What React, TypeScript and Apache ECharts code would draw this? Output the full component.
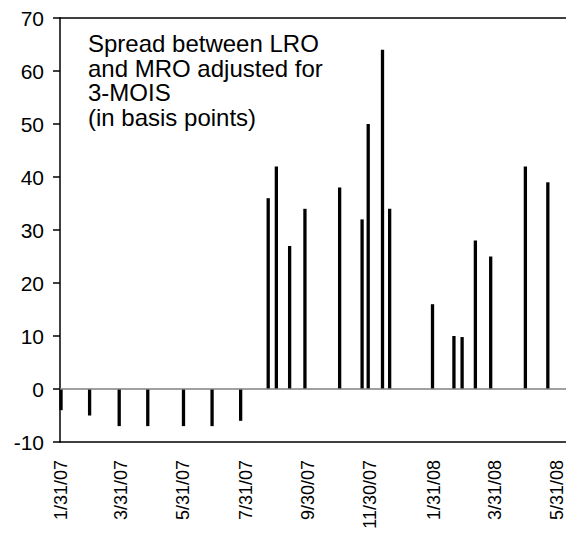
import React, { useEffect, useRef } from "react";
import * as echarts from "echarts";

// LRO allotment dates and spread values (basis points)
const lroDates: string[] = [
  "2007-01-31", "2007-02-28", "2007-03-29", "2007-04-26", "2007-05-31",
  "2007-06-28", "2007-07-26", "2007-08-22", "2007-08-30", "2007-09-12",
  "2007-09-27", "2007-10-31", "2007-11-22", "2007-11-28", "2007-12-12",
  "2007-12-19", "2008-01-30", "2008-02-20", "2008-02-28", "2008-03-12",
  "2008-03-27", "2008-04-30", "2008-05-22",
];
const spreadValues: number[] = [
  -4, -5, -7, -7, -7, -7, -6, 36, 42, 27, 34, 38, 32, 50, 64, 34,
  16, 10, 9.8, 28, 25, 42, 39,
];
const tickDates: string[] = [
  "2007-01-31", "2007-03-31", "2007-05-31", "2007-07-31", "2007-09-30",
  "2007-11-30", "2008-01-31", "2008-03-31", "2008-05-31",
];
const yTicks = { min: -10, max: 70, interval: 10 };
const noteLines: string[] = [
  "Spread between LRO",
  "and MRO adjusted for",
  "3-MOIS",
  "(in basis points)",
];

const ts = (d: string) => {
  const [y, m, day] = d.split("-").map(Number);
  return Date.UTC(y, m - 1, day);
};
const DAY = 86400000;
const FONT = 'Arial, "Liberation Sans", sans-serif';

export default function App() {
  const ref = useRef<HTMLDivElement>(null);
  useEffect(() => {
    if (!ref.current) return;
    const chart = echarts.init(ref.current, undefined, { renderer: "svg" });
    const xMin = ts("2007-01-30");
    const xMax = xMin + 495.8 * DAY;
    const fmt = (v: number) => {
      const d = new Date(v);
      return `${d.getUTCMonth() + 1}/${d.getUTCDate()}/${String(d.getUTCFullYear()).slice(2)}`;
    };
    chart.setOption({
      animation: false,
      backgroundColor: "#ffffff",
      grid: { left: 60, right: 0, top: 18, bottom: 96, containLabel: false, outerBoundsMode: "none" },
      xAxis: [
        {
          type: "value",
          min: xMin,
          max: xMax,
          position: "bottom",
          axisLine: { show: true, onZero: false, lineStyle: { color: "#000", width: 1.5 } },
          axisTick: { show: false },
          splitLine: { show: false },
          axisLabel: {
            customValues: tickDates.map(ts),
            formatter: (v: number) => fmt(v),
            rotate: 90,
            margin: 18,
            fontSize: 18,
            color: "#000",
            fontFamily: FONT,
            hideOverlap: false,
            showMinLabel: true,
            showMaxLabel: true,
          },
        },
        {
          type: "value",
          min: xMin,
          max: xMax,
          position: "top",
          axisLine: { show: true, onZero: false, lineStyle: { color: "#000", width: 1.5 } },
          axisTick: { show: false },
          axisLabel: { show: false },
          splitLine: { show: false },
        },
      ],
      yAxis: {
        type: "value",
        min: yTicks.min,
        max: yTicks.max,
        interval: yTicks.interval,
        axisLine: { show: true, lineStyle: { color: "#000", width: 1.5 } },
        axisTick: { show: true, length: 7, lineStyle: { color: "#000", width: 1.5 } },
        splitLine: { show: false },
        axisLabel: { fontSize: 21, color: "#000", fontFamily: FONT, margin: 16 },
      },
      graphic: [
        {
          type: "text",
          left: 88,
          top: 31,
          style: {
            text: noteLines.join("\n"),
            font: `24px ${FONT}`,
            fill: "#000",
            lineHeight: 24.7,
          },
        },
      ],
      series: [
        {
          type: "bar",
          xAxisIndex: 0,
          data: lroDates.map((d, i) => [ts(d), spreadValues[i]]),
          barWidth: 3.3,
          itemStyle: { color: "#000" },
          markLine: {
            silent: true,
            symbol: "none",
            label: { show: false },
            lineStyle: { color: "#808080", width: 1.5, type: "solid" },
            data: [{ yAxis: 0 }],
          },
        },
      ],
    });
    return () => chart.dispose();
  }, []);
  return (
    <div
      ref={ref}
      style={{ position: "fixed", left: 0, top: 0, width: 566, height: 538, background: "#fff" }}
    />
  );
}
